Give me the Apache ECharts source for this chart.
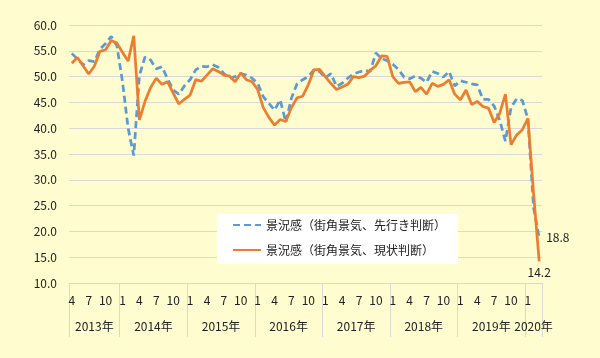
<!DOCTYPE html>
<html>
<head>
<meta charset="utf-8">
<script src="https://cdn.jsdelivr.net/npm/echarts@6/dist/echarts.min.js"></script>
<style>
html,body{margin:0;padding:0;background:#FFFDD0;}
#c{width:600px;height:358px;}
</style>
</head>
<body>
<div id="c"></div>
<script>
// Month of each observation, April 2013 .. March 2020
const months = [4,5,6,7,8,9,10,11,12,
  1,2,3,4,5,6,7,8,9,10,11,12,
  1,2,3,4,5,6,7,8,9,10,11,12,
  1,2,3,4,5,6,7,8,9,10,11,12,
  1,2,3,4,5,6,7,8,9,10,11,12,
  1,2,3,4,5,6,7,8,9,10,11,12,
  1,2,3,4,5,6,7,8,9,10,11,12,
  1,2,3];
const years = ['2013年','2014年','2015年','2016年','2017年','2018年','2019年','2020年'];
const yearStartIdx = [0,9,21,33,45,57,69,81,84];
const yTicks = [10,15,20,25,30,35,40,45,50,55,60];

const seriesNames = ['景況感（街角景気、先行き判断）','景況感（街角景気、現状判断）'];
// 先行き判断 DI
const outlook = [54.5,53.4,52.3,53.1,52.9,55.3,56.4,57.8,56.0,
  49.0,40.0,34.7,50.2,53.8,53.2,51.5,51.9,49.6,47.4,46.6,48.2,
  49.4,51.3,52.0,51.9,52.3,51.8,50.6,49.7,50.0,50.6,50.3,49.7,
  48.7,46.1,44.8,43.5,45.5,41.2,45.8,48.6,49.4,50.0,51.3,51.0,
  49.7,50.6,48.1,48.7,49.7,50.5,50.9,51.2,51.0,54.6,53.5,53.1,
  52.4,51.4,49.9,49.6,50.1,49.7,48.9,51.0,50.6,49.9,51.0,48.2,
  49.2,48.9,48.6,48.4,45.6,45.6,44.3,41.5,37.5,44.0,45.7,45.4,
  41.8,24.6,18.8];
// 現状判断 DI
const current = [52.6,53.7,52.1,50.5,52.0,54.9,55.2,57.0,56.5,
  54.7,53.0,57.9,41.6,45.2,47.9,49.7,48.5,49.0,46.8,44.7,45.6,
  46.4,49.4,49.1,50.3,51.5,51.0,50.3,50.1,49.0,50.7,49.4,49.0,
  47.5,44.0,42.1,40.6,41.7,41.3,44.0,45.9,46.2,48.4,51.3,51.4,
  50.0,48.7,47.5,48.0,48.5,50.0,49.8,50.1,51.2,52.1,54.0,53.9,
  50.0,48.7,48.9,49.0,47.1,47.9,46.6,48.7,48.1,48.5,49.4,46.6,
  45.5,47.4,44.6,45.2,44.2,43.9,41.1,42.9,46.6,36.8,38.7,39.7,
  41.9,27.4,14.2];

const yearCenters = years.map((y,i)=> (yearStartIdx[i]+yearStartIdx[i+1])/2);

function withEndLabel(arr, pos, dist){
  return arr.map((v,i)=> i===arr.length-1
    ? {value:v, label:{show:true, position:pos, distance:dist, formatter: v.toFixed(1)}}
    : v);
}

const FONT = '"Noto Sans CJK JP", "Noto Sans", sans-serif';
const chart = echarts.init(document.getElementById('c'), null, {renderer:'canvas'});
chart.setOption({
  backgroundColor:'#FFFDD0',
  animation:false,
  textStyle:{fontFamily:FONT},
  grid:{left:69,right:58,top:25,bottom:75,containLabel:false},
  legend:{
    orient:'vertical', left:217, top:214,
    backgroundColor:'#ffffff',
    padding:[5,12,8,15],
    itemWidth:28, itemHeight:14, itemGap:13,
    itemStyle:{opacity:0, borderWidth:0},
    textStyle:{fontSize:12, color:'#222', fontFamily:FONT},
    data:seriesNames
  },
  xAxis:[{
    type:'category',
    data:months,
    boundaryGap:true,
    axisLine:{show:true, lineStyle:{color:'#D9D9D9', width:1}},
    axisTick:{show:false},
    axisLabel:{interval:(idx)=> idx%3===0, margin:11, fontSize:12, color:'#222', fontFamily:FONT},
    splitLine:{show:false}
  },{
    type:'value',
    min:0, max:84,
    position:'bottom',
    axisLine:{show:false},
    splitLine:{show:false},
    axisTick:{show:true, customValues:yearStartIdx, length:54, lineStyle:{color:'#D9D9D9', width:1}},
    axisLabel:{show:true, customValues:yearCenters, margin:37, fontSize:12, color:'#222', fontFamily:FONT,
      formatter:(v)=>{ const k = yearCenters.indexOf(v); return k>=0 ? years[k] : ''; }}
  }],
  yAxis:{
    type:'value', min:10, max:60, interval:5,
    axisLine:{show:false}, axisTick:{show:false},
    axisLabel:{formatter:(v)=>v.toFixed(1), margin:12, fontSize:12, color:'#222', fontFamily:FONT},
    splitLine:{lineStyle:{color:'#D9D9D9', width:1}}
  },
  series:[{
    name:seriesNames[0], type:'line', xAxisIndex:0,
    data:withEndLabel(outlook,'right',7),
    symbol:'circle', symbolSize:0, showSymbol:true, showAllSymbol:true,
    lineStyle:{color:'#5B9BD5', width:2.75, type:[7,4], cap:'butt'},
    itemStyle:{color:'#5B9BD5'},
    label:{fontSize:12, color:'#222', fontFamily:FONT},
    emphasis:{disabled:true},
    z:2
  },{
    name:seriesNames[1], type:'line', xAxisIndex:0,
    data:withEndLabel(current,'bottom',5),
    symbol:'circle', symbolSize:0, showSymbol:true, showAllSymbol:true,
    lineStyle:{color:'#ED7D31', width:2.75},
    itemStyle:{color:'#ED7D31'},
    label:{fontSize:12, color:'#222', fontFamily:FONT},
    emphasis:{disabled:true},
    z:3
  }]
});
</script>
</body>
</html>
